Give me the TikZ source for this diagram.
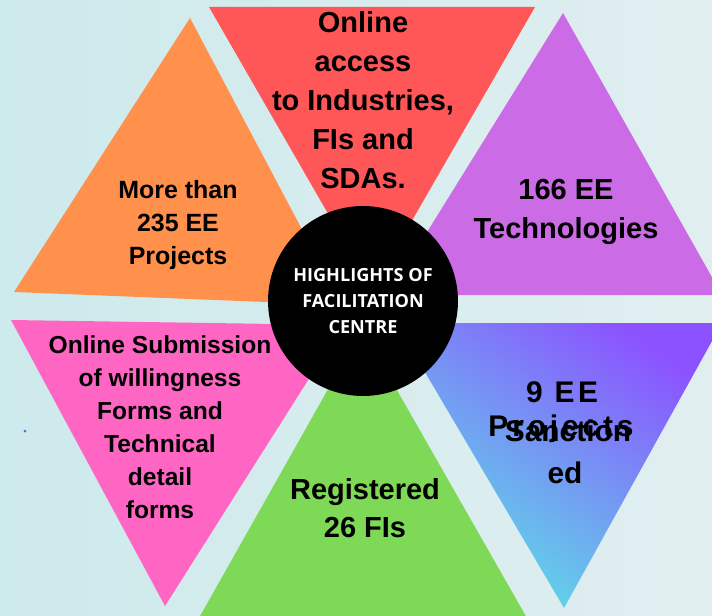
\documentclass[tikz,border=0pt]{standalone}
\usepackage{fontspec}
\setmainfont{Liberation Sans}
\newfontfamily\hubfont{Open Sans}
\usepackage{tikz}
\usetikzlibrary{positioning}
\definecolor{bgLeft}{RGB}{205,234,236}
\definecolor{bgRight}{RGB}{225,238,240}
\definecolor{triRed}{HTML}{FF5757}
\definecolor{triOrange}{HTML}{FF914D}
\definecolor{triPurple}{HTML}{CB6CE6}
\definecolor{triPink}{HTML}{FF66C4}
\definecolor{triGreen}{HTML}{7ED957}
\definecolor{triViolet}{HTML}{8C52FF}
\definecolor{triCyan}{HTML}{5CE1E6}
\definecolor{dotBlue}{HTML}{3A7BD5}
\tikzset{
    trilabel/.style={align=center, text=black, inner sep=0pt},
    biglabel/.style={trilabel, font=\bfseries\fontsize{16.5}{22.2}\selectfont},
    midlabel/.style={trilabel, font=\bfseries\fontsize{14.2}{18.6}\selectfont},
    bluelabel/.style={trilabel, font=\bfseries\fontsize{17}{22.8}\selectfont},
    hubbox/.style={circle, fill=black, minimum size=3.8cm, inner sep=0pt,
        align=center, text=white, font=\hubfont\bfseries\fontsize{10.3}{14.8}\selectfont},
}
\begin{document}
\begin{tikzpicture}[x=0.02cm, y=-0.02cm]
    \useasboundingbox (0,0) rectangle (712,615);
    \shade[left color=bgLeft, right color=bgRight] (0,0) rectangle (712,615);

    % triangles
    \begin{scope}
        \clip (0,0) rectangle (712,615);
        \fill[triRed] (209,7) -- (535,7) -- (372,290) -- cycle;
        \fill[triOrange] (190,18) -- (14,292) -- (342,305) -- cycle;
        \fill[triPurple] (563,13) -- (388,295) -- (722,295) -- cycle;
        \fill[triPink] (11,320) -- (343,325) -- (165,606) -- cycle;
        \fill[triGreen] (362,329) -- (195,625) -- (531,625) -- cycle;
        \shade[top color=triViolet, bottom color=triCyan, shading angle=-35]
            (396,323) -- (722,323) -- (564,608) -- cycle;
    \end{scope}
    \fill[dotBlue] (25,431) circle (1.5);

    % labels
    \node[biglabel] (access) at (363,100) {Online\\access\\to Industries,\\FIs and\\SDAs.};
    \node[midlabel] (projects) at (178,225) {More than\\235 EE\\Projects};
    \node[biglabel] (techs) at (566,212) {166 EE\\Technologies};
    \node[midlabel, font=\bfseries\fontsize{14}{18.8}\selectfont] (forms) at (160,427)
        {Online Submission\\of willingness\\Forms and\\Technical\\detail\\forms};
    \node[biglabel, font=\bfseries\fontsize{16.5}{21.6}\selectfont] (registered) at (365,508) {Registered\\26 FIs};

    \node[bluelabel] (sanction) at (568,431) {Sanction};
    \node[bluelabel, font=\bfseries\fontsize{17}{22.8}\selectfont\addfontfeatures{LetterSpace=13}]
        (eeprojects) at (561,429) {Projects};
    \node[bluelabel, font=\bfseries\fontsize{17}{22.8}\selectfont\addfontfeatures{LetterSpace=12}]
        (nineEE) at (562,392) {9 EE};
    \node[bluelabel] (ed) at (565,473) {ed};

    \node[hubbox] (hub) at (363,301) {HIGHLIGHTS OF\\FACILITATION\\CENTRE};
\end{tikzpicture}
\end{document}
